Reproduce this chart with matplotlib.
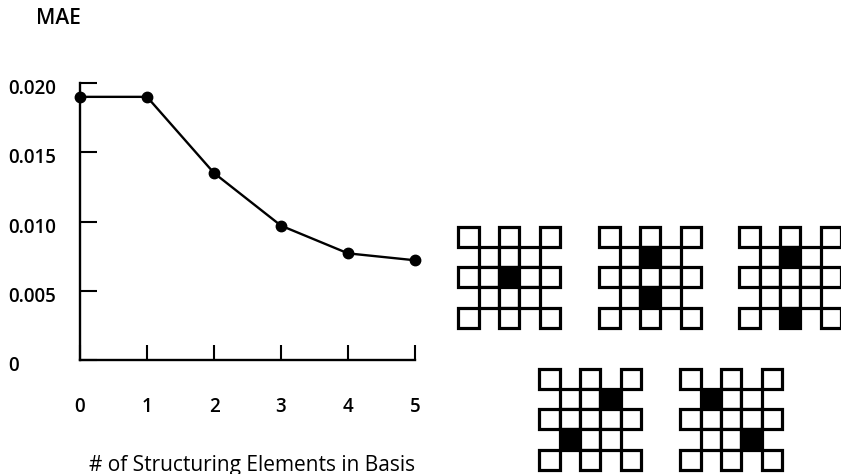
import matplotlib.pyplot as plt
from matplotlib import transforms
from matplotlib.patches import Rectangle

plt.rcParams['font.family'] = ['Open Sans', 'DejaVu Sans']
plt.rcParams['font.size'] = 13.5
plt.rcParams['font.weight'] = 'semibold'

# MAE against number of structuring elements
n_elements = [0, 1, 2, 3, 4, 5]
mae = [0.0190, 0.0190, 0.0135, 0.0097, 0.0077, 0.0072]

ytick_values = [0, 0.005, 0.010, 0.015, 0.020]
ytick_labels = ['0', '0.005', '0.010', '0.015', '0.020']
xtick_labels = ['0', '1', '2', '3', '4', '5']

# black cells (row, col) of each 5x5 structuring element
filled_cells = [
    [(2, 2)],
    [(1, 2), (3, 2)],
    [(1, 2), (4, 2)],
    [(1, 3), (3, 1)],
    [(1, 1), (3, 3)],
]


def cell_in_grid(r, c):
    if r in (0, 4) and c % 2 == 1:
        return False
    if c in (0, 4) and r % 2 == 1:
        return False
    return True


W, H = 841, 474
fig = plt.figure(figsize=(W / 100, H / 100), dpi=100)

# main plot, placed in pixels
left, right, bottom, top = 80, 415, 360, 83
ax = fig.add_axes([left / W, 1 - bottom / H, (right - left) / W, (bottom - top) / H])
ax.plot(n_elements, mae, color='black', lw=1.7, marker='o', ms=7.5, clip_on=False, zorder=3)
ax.set_xlim(0, 5)
ax.set_ylim(0, 0.020)

for s in ['top', 'right']:
    ax.spines[s].set_visible(False)
for s in ['left', 'bottom']:
    ax.spines[s].set_linewidth(1.7)

ax.set_xticks(n_elements)
ax.set_xticklabels(xtick_labels)
ax.tick_params(axis='x', direction='in', length=11, width=1.5, pad=27)
ax.set_yticks(ytick_values)
ax.set_yticklabels([])
ax.tick_params(axis='y', direction='in', length=12, width=1.5)

ylab_trans = transforms.offset_copy(
    transforms.blended_transform_factory(ax.transAxes, ax.transData),
    fig=fig, x=0, y=-6, units='dots')
for v, lab in zip(ytick_values, ytick_labels):
    ax.text((8 - left) / (right - left), v, lab, transform=ylab_trans,
            ha='left', va='center')

ax.set_xlabel('# of Structuring Elements in Basis', va='center', fontsize=15)
ax.xaxis.set_label_coords(0.513, -(465 - bottom) / (bottom - top))

fig.text(36 / W, 1 - 18 / H, 'MAE', ha='left', va='center', fontsize=15)

# structuring element drawings
ov = fig.add_axes([0, 0, 1, 1])
ov.set_xlim(0, W)
ov.set_ylim(H, 0)
ov.axis('off')

cell = 20.3
origins = [(458.5, 226.5), (599.5, 226.5), (739.5, 226.5), (539.5, 368.5), (680.5, 368.5)]
for (x0, y0), filled in zip(origins, filled_cells):
    for r in range(5):
        for c in range(5):
            if not cell_in_grid(r, c):
                continue
            fc = 'black' if (r, c) in filled else 'white'
            ov.add_patch(Rectangle((x0 + c * cell, y0 + r * cell), cell, cell,
                                   facecolor=fc, edgecolor='black', lw=2.3))

fig.savefig('out.png', dpi=100)
